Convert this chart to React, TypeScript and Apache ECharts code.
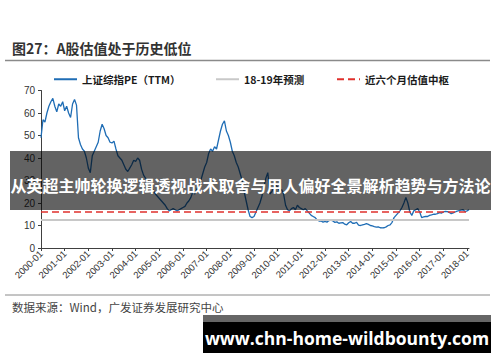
import React, { useEffect, useRef } from "react";
import * as echarts from "echarts";

const YEARS = Array.from({ length: 19 }, (_, k) => 2000 + k);
const MONTHS = ["01", "02", "03", "04", "05", "06", "07", "08", "09", "10", "11", "12"];
const END_MONTHS_2018 = 2;

const PE_2000 = [49, 57, 56, 60, 63, 65, 66.5, 63, 60.5, 64, 63, 65];
const PE_2001 = [61, 63, 60, 58, 64, 66, 63.5, 49, 46, 44, 43, 40];
const PE_2002 = [35.5, 33.5, 41, 43, 45, 47, 52, 55, 53, 50, 49, 47];
const PE_2003 = [46.7, 47.5, 44, 41, 40, 39, 37, 35, 34, 35.5, 37, 39];
const PE_2004 = [38.5, 40, 39, 35, 32.4, 31, 30, 28.5, 27, 25.5, 24, 23];
const PE_2005 = [22, 21, 20, 19, 17.5, 16.5, 17, 17.5, 17, 16.5, 17, 17.5];
const PE_2006 = [18, 18.5, 20, 21, 22.5, 25, 24, 26, 28, 30, 33, 36];
const PE_2007 = [38, 42, 44, 43, 45, 44, 48, 52, 55, 56.5, 52, 50];
const PE_2008 = [47, 43, 41, 38, 36, 33, 30, 25, 21, 17, 14, 13.5];
const PE_2009 = [14, 16, 18, 20, 23, 27, 31, 33.5, 24, 25, 27, 28];
const PE_2010 = [27, 25, 26, 24, 19, 17, 16.5, 17.5, 18, 17, 19, 18];
const PE_2011 = [17.5, 17, 17.5, 16.5, 15.5, 14.5, 14, 13.5, 12.5, 12, 12, 11.5];
const PE_2012 = [11.8, 11.5, 12.2, 12.4, 12, 11.4, 11.6, 11, 11.2, 11.3, 10.6, 10.3];
const PE_2013 = [11.2, 11.8, 11, 11, 11.4, 10.2, 10, 10.3, 10.5, 10.8, 10.5, 10];
const PE_2014 = [9.8, 9.5, 9.3, 9.4, 9, 8.9, 9, 9.4, 10, 10.3, 11.4, 13.5];
const PE_2015 = [14.5, 15.5, 16.5, 18, 20, 22.5, 20, 16, 14.5, 16.5, 17, 17.5];
const PE_2016 = [16, 13.5, 13.8, 14, 14, 14.5, 14.7, 15, 15, 15.3, 15.7, 15.5];
const PE_2017 = [16, 16.3, 16.2, 15.8, 15.3, 15.6, 16, 16.4, 16.6, 16.8, 17, 16.2];
const PE_2018 = [16.5, 17];

const FORECAST_PE = 12.6;
const MID_PE = 16;

const Y_TICKS = { min: 0, max: 70, interval: 10 };

const TITLE = "图27：A股估值处于历史低位";
const SOURCE = "数据来源：Wind，广发证券发展研究中心";
const NAME_PE = "上证综指PE（TTM）";
const NAME_FC = "18-19年预测";
const NAME_MID = "近六个月估值中枢";
const BANNER = "从英超主帅轮换逻辑透视战术取舍与用人偏好全景解析趋势与方法论";
const WATERMARK = "www.chn-home-wildbounty.com";

const PE_VALUES = [
  ...PE_2000, ...PE_2001, ...PE_2002, ...PE_2003, ...PE_2004, ...PE_2005,
  ...PE_2006, ...PE_2007, ...PE_2008, ...PE_2009, ...PE_2010, ...PE_2011,
  ...PE_2012, ...PE_2013, ...PE_2014, ...PE_2015, ...PE_2016, ...PE_2017,
  ...PE_2018,
];

const CATEGORIES: string[] = [];
YEARS.forEach((y) => {
  const n = y === 2018 ? END_MONTHS_2018 : 12;
  for (let m = 0; m < n; m++) CATEGORIES.push(`${y}-${MONTHS[m]}`);
});

const CJK = '"Noto Sans CJK SC", "Noto Sans", sans-serif';

export default function App() {
  const ref = useRef<HTMLDivElement>(null);
  useEffect(() => {
    if (!ref.current) return;
    const chart = echarts.init(ref.current, undefined, { renderer: "svg" });
    const legendText = { fontSize: 10.5, fontWeight: "bold" as const, color: "#1a1a1a", fontFamily: CJK };
    const legendBase = {
      top: 74,
      itemWidth: 23,
      itemHeight: 12,
      textStyle: legendText,
      padding: 0,
      itemStyle: { opacity: 0 },
    };
    chart.setOption({
      animation: false,
      backgroundColor: "#ffffff",
      title: {
        text: TITLE,
        left: 12,
        top: 41,
        padding: 0,
        textStyle: { fontSize: 14, fontWeight: "bold", color: "#333", fontFamily: CJK },
      },
      legend: [
        { ...legendBase, data: [NAME_PE], left: 53 },
        { ...legendBase, data: [NAME_FC], left: 215 },
        { ...legendBase, data: [NAME_MID], left: 336 },
      ],
      grid: { left: 41, right: 31, top: 90.5, bottom: 114, containLabel: false },
      xAxis: {
        type: "category",
        data: CATEGORIES,
        boundaryGap: false,
        axisLine: { lineStyle: { color: "#404040", width: 1 } },
        axisTick: { interval: 11, length: 3, lineStyle: { color: "#404040" } },
        axisLabel: {
          interval: 11,
          rotate: 45,
          fontSize: 9.5,
          color: "#333",
          margin: 4,
          fontFamily: "Liberation Sans, Arial, sans-serif",
        },
        splitLine: { show: false },
      },
      yAxis: {
        type: "value",
        min: Y_TICKS.min,
        max: Y_TICKS.max,
        interval: Y_TICKS.interval,
        axisLine: { show: true, lineStyle: { color: "#404040", width: 1 } },
        axisTick: { show: true, length: 3, lineStyle: { color: "#404040" } },
        axisLabel: { fontSize: 10, color: "#333", margin: 6, fontFamily: "Liberation Sans, Arial, sans-serif" },
        splitLine: { show: false },
      },
      series: [
        {
          name: NAME_FC,
          type: "line",
          data: [],
          symbol: "none",
          color: "#c8c8c8",
          lineStyle: { color: "#c8c8c8", width: 2 },
          markLine: {
            silent: true,
            symbol: "none",
            label: { show: false },
            lineStyle: { color: "#c8c8c8", width: 2, type: "solid" },
            data: [{ yAxis: FORECAST_PE }],
          },
          z: 1,
        },
        {
          name: NAME_MID,
          type: "line",
          data: [],
          symbol: "none",
          color: "#e0302c",
          lineStyle: { color: "#e0302c", width: 1.6, type: [7, 4] },
          markLine: {
            silent: true,
            symbol: "none",
            label: { show: false },
            lineStyle: { color: "#e0302c", width: 1.6, type: [7, 4] },
            data: [{ yAxis: MID_PE }],
          },
          z: 2,
        },
        {
          name: NAME_PE,
          type: "line",
          data: PE_VALUES,
          symbol: "none",
          color: "#1f6db5",
          lineStyle: { color: "#1f6db5", width: 1.3 },
          z: 3,
        },
      ],
      graphic: [
        { type: "line", z: 50, shape: { x1: 5, y1: 60.5, x2: 490, y2: 60.5 }, style: { stroke: "#8a8a8a", lineWidth: 1.5 } },
        { type: "line", z: 50, shape: { x1: 5, y1: 295, x2: 490, y2: 295 }, style: { stroke: "#8a8a8a", lineWidth: 1 } },
        {
          type: "text",
          z: 50,
          x: 12,
          y: 307,
          style: { text: SOURCE, fontSize: 11.5, fill: "#444", fontFamily: CJK, verticalAlign: "middle" },
        },
        {
          type: "rect",
          z: 100,
          shape: { x: 10, y: 151, width: 481, height: 59 },
          style: { fill: "rgba(0,0,0,0.61)" },
        },
        {
          type: "text",
          z: 101,
          x: 250.5,
          y: 185,
          style: {
            text: BANNER,
            fontSize: 16,
            fontWeight: "bold",
            fill: "#ffffff",
            fontFamily: CJK,
            align: "center",
            verticalAlign: "middle",
          },
        },
        {
          type: "rect",
          z: 100,
          shape: { x: 203, y: 315, width: 288, height: 7 },
          style: { fill: "rgba(0,0,0,0.6)" },
        },
        {
          type: "rect",
          z: 100,
          shape: { x: 203, y: 322, width: 288, height: 31 },
          style: { fill: "#000000" },
        },
        {
          type: "text",
          z: 101,
          x: 347,
          y: 337.5,
          style: {
            text: WATERMARK,
            fontSize: 17.5,
            fontWeight: "bold",
            fill: "#ffffff",
            fontFamily: '"Open Sans", sans-serif',
            align: "center",
            verticalAlign: "middle",
          },
        },
      ],
    });
    return () => chart.dispose();
  }, []);
  return (
    <div
      ref={ref}
      style={{ position: "fixed", left: 0, top: 0, width: 500, height: 362, background: "#fff" }}
    />
  );
}
